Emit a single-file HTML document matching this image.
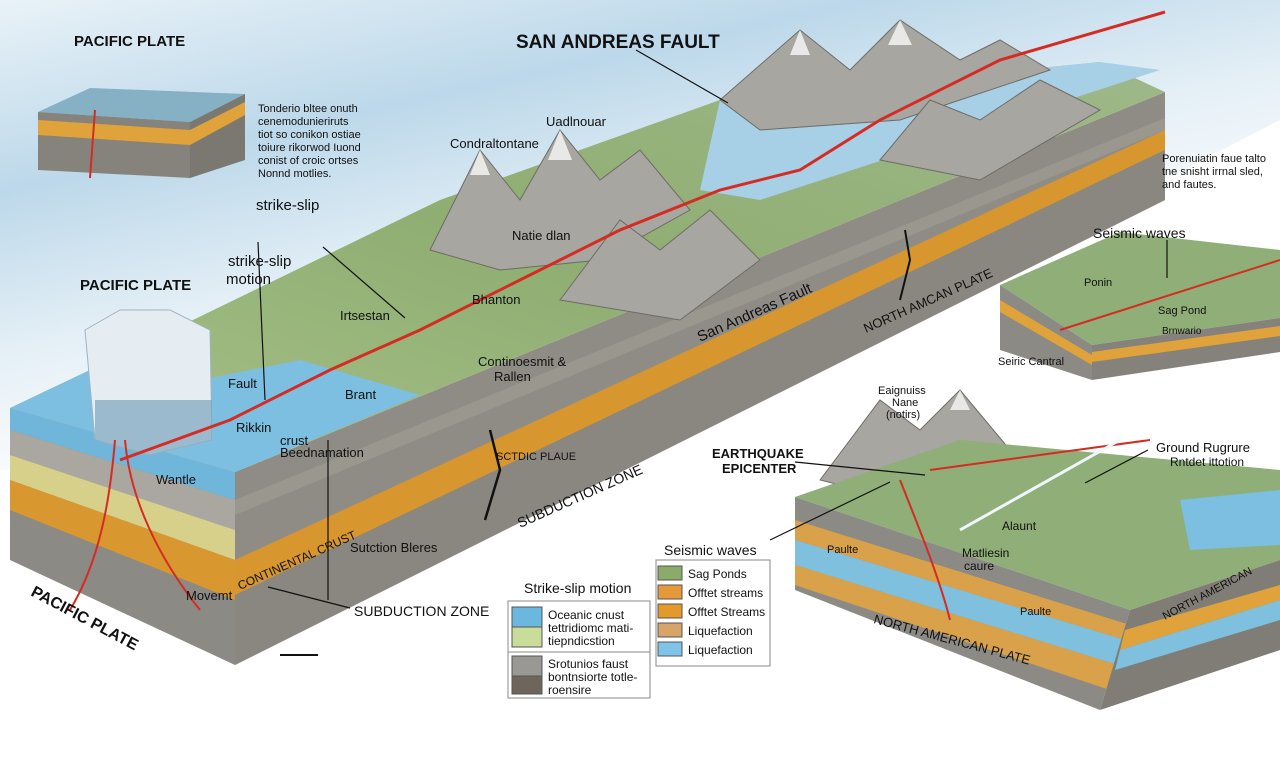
<!DOCTYPE html>
<html><head><meta charset="utf-8"><style>
html,body{margin:0;padding:0;background:#fff}
svg{display:block}
text{font-family:"Liberation Sans",sans-serif;fill:#111}
</style></head><body>
<svg width="1280" height="769" viewBox="0 0 1280 769" xmlns="http://www.w3.org/2000/svg">
<defs>
<linearGradient id="sky" x1="0" y1="0" x2="0.6" y2="1">
<stop offset="0" stop-color="#e9f2f8"/><stop offset="0.3" stop-color="#bcd8ea"/><stop offset="0.55" stop-color="#e4eff6"/><stop offset="0.8" stop-color="#fff"/></linearGradient>
<linearGradient id="ter" x1="0" y1="1" x2="1" y2="0">
<stop offset="0" stop-color="#a9c28a"/><stop offset="0.5" stop-color="#8fae72"/><stop offset="1" stop-color="#9fb88a"/></linearGradient>
</defs>
<rect width="1280" height="769" fill="#fff"/>
<polygon points="0,0 1280,0 1280,120 700,420 0,470" fill="url(#sky)"/>

<!-- main block side face -->
<polygon points="235,472 1165,92 1165,200 235,665" fill="#8f8c86"/>
<polygon points="235,500 1165,118 1165,130 235,515" fill="#9a978f"/>
<polygon points="235,560 1165,130 1165,150 235,595" fill="#d8962e"/>
<polygon points="235,595 1165,150 1165,200 235,665" fill="#8a8780"/>
<!-- left end face -->
<polygon points="10,408 235,472 235,665 10,560" fill="#8c8a84"/>
<polygon points="10,408 235,472 235,500 10,430" fill="#6fb6da"/>
<polygon points="10,430 235,500 235,530 10,455" fill="#a9a79f"/>
<polygon points="10,455 235,530 235,560 10,480" fill="#d7d08b"/>
<polygon points="10,480 235,560 235,600 10,510" fill="#d9982f"/>
<!-- top surface -->
<polygon points="10,408 235,472 1165,92 1100,62 720,100 440,200 90,370" fill="url(#ter)"/>
<polygon points="10,408 235,472 420,395 300,360 200,380 90,370" fill="#7dbfe0"/>
<polygon points="720,100 1100,62 1160,70 760,200 700,190" fill="#a7cfe6"/>
<!-- mountains -->
<g fill="#a8a6a0" stroke="#6d6b66" stroke-width="1">
<polygon points="430,250 480,150 520,200 560,130 600,180 640,150 690,210 600,260 500,270"/>
<polygon points="720,100 800,30 850,70 900,20 960,60 1000,40 1050,70 900,120 760,130"/>
<polygon points="560,300 620,220 660,250 710,210 760,260 680,320"/>
<polygon points="880,160 930,100 980,120 1040,80 1100,110 980,180"/>
<polygon points="820,480 880,400 920,430 960,390 1010,450 900,500"/>
</g>
<g fill="#e8e8e6"><polygon points="480,150 490,175 470,175"/><polygon points="560,130 572,160 548,160"/><polygon points="900,20 912,45 888,45"/><polygon points="800,30 810,55 790,55"/><polygon points="960,390 970,410 950,410"/></g>
<!-- ice cliff -->
<polygon points="85,330 120,310 170,310 210,330 212,440 150,455 95,440" fill="#e6edf2" stroke="#9fb3c2"/>
<polygon points="95,400 212,400 212,440 150,455 95,440" fill="#7aa4bd" opacity="0.7"/>
<!-- fault red line -->
<polyline points="120,460 230,420 330,370 420,330 520,280 620,230 720,190 800,170 880,120 1000,60 1165,12" fill="none" stroke="#d62b22" stroke-width="3"/>
<path d="M115,440 C110,500 100,560 70,610 M125,440 C130,500 160,560 200,610" fill="none" stroke="#d62b22" stroke-width="2"/>
<path d="M490,430 L500,470 L485,520" stroke="#111" stroke-width="2.5" fill="none"/>
<path d="M905,230 L910,260 L900,300" stroke="#111" stroke-width="2" fill="none"/>

<!-- top-left inset -->
<polygon points="38,112 90,88 245,94 190,122" fill="#86b0c4"/>
<polygon points="38,112 190,122 190,178 38,170" fill="#86837d"/>
<polygon points="38,120 190,130 190,145 38,135" fill="#e0a23a"/>
<polygon points="190,122 245,94 245,160 190,178" fill="#7b7872"/>
<polygon points="190,130 245,102 245,115 190,145" fill="#e0a23a"/>
<path d="M95,110 L90,178" stroke="#d62b22" stroke-width="2"/>
<!-- right inset -->
<polygon points="1000,285 1120,232 1280,250 1280,318 1092,345" fill="#8fae78"/>
<polygon points="1000,285 1092,345 1092,380 1000,350" fill="#8c8a84"/>
<polygon points="1000,300 1092,355 1092,365 1000,312" fill="#e0a23a"/>
<polygon points="1092,345 1280,318 1280,352 1092,380" fill="#85827c"/>
<polygon points="1092,352 1280,326 1280,336 1092,362" fill="#e0a23a"/>
<path d="M1060,330 L1280,260" stroke="#d62b22" stroke-width="2"/>
<!-- bottom right block -->
<polygon points="795,497 960,440 1280,470 1280,560 1130,610" fill="#8fae78"/>
<polygon points="1180,500 1280,490 1280,545 1190,550" fill="#7cbfe0"/>
<polygon points="795,497 1130,610 1100,710 795,590" fill="#8c8a84"/>
<polygon points="795,520 1130,625 1125,640 795,540" fill="#d9a24a"/>
<polygon points="795,540 1125,640 1118,665 795,565" fill="#7fc0df"/>
<polygon points="795,565 1118,665 1110,690 795,585" fill="#d9a24a"/>
<polygon points="1130,610 1280,560 1280,650 1100,710" fill="#807d77"/>
<polygon points="1125,630 1280,585 1280,600 1120,650" fill="#e0a23a"/>
<polygon points="1120,650 1280,600 1280,620 1115,670" fill="#7fc0df"/>
<path d="M900,480 C920,530 940,580 950,620 M930,470 L1150,440" stroke="#d62b22" stroke-width="2" fill="none"/>
<path d="M960,530 L1120,440" stroke="#eef6fb" stroke-width="3"/>

<!-- legend -->
<rect x="508" y="601" width="142" height="97" fill="#fff" stroke="#888"/>
<rect x="512" y="607" width="30" height="20" fill="#6ab8e0" stroke="#555"/>
<rect x="512" y="627" width="30" height="20" fill="#c9dc9a" stroke="#555"/>
<line x1="508" y1="652" x2="650" y2="652" stroke="#888"/>
<rect x="512" y="656" width="30" height="20" fill="#9a9893" stroke="#555"/>
<rect x="512" y="676" width="30" height="18" fill="#6e665a" stroke="#555"/>
<rect x="656" y="560" width="114" height="106" fill="#fff" stroke="#888"/>
<rect x="658" y="566" width="24" height="14" fill="#8caa6a" stroke="#555"/>
<rect x="658" y="585" width="24" height="14" fill="#e49a3a" stroke="#555"/>
<rect x="658" y="604" width="24" height="14" fill="#e49a2a" stroke="#555"/>
<rect x="658" y="623" width="24" height="14" fill="#d7a46a" stroke="#555"/>
<rect x="658" y="642" width="24" height="14" fill="#7ec3e8" stroke="#555"/>

<!-- leader lines -->
<g stroke="#111" stroke-width="1.2" fill="none">
<line x1="636" y1="50" x2="728" y2="103"/><line x1="258" y1="242" x2="265" y2="400"/><line x1="323" y1="247" x2="405" y2="318"/>
<line x1="795" y1="462" x2="925" y2="475"/><line x1="770" y1="540" x2="890" y2="482"/><line x1="1148" y1="450" x2="1085" y2="483"/>
<line x1="350" y1="608" x2="268" y2="587"/><line x1="328" y1="440" x2="328" y2="600"/><line x1="1167" y1="240" x2="1167" y2="278"/>
<line x1="280" y1="655" x2="318" y2="655" stroke-width="2"/>
</g>

<!-- labels -->
<g font-weight="bold">
<text x="74" y="46" font-size="15">PACIFIC PLATE</text>
<text x="516" y="48" font-size="19">SAN ANDREAS FAULT</text>
<text x="80" y="290" font-size="15">PACIFIC PLATE</text>
<text x="30" y="595" font-size="16" transform="rotate(28 30 595)">PACIFIC PLATE</text>
</g>
<g font-size="11">
<text x="258" y="112">Tonderio bltee onuth</text><text x="258" y="125">cenemodunieriruts</text><text x="258" y="138">tiot so conikon ostiae</text><text x="258" y="151">toiure rikorwod Iuond</text><text x="258" y="164">conist of croic ortses</text><text x="258" y="177">Nonnd motlies.</text>
<text x="1162" y="162">Porenuiatin faue talto</text><text x="1162" y="175">tne snisht irrnal sled,</text><text x="1162" y="188">and fautes.</text>
</g>
<g font-size="13">
<text x="546" y="126">Uadlnouar</text><text x="450" y="148">Condraltontane</text>
<text x="228" y="266" font-size="15">strike-slip</text><text x="226" y="284" font-size="15">motion</text>
<text x="256" y="210" font-size="15">strike-slip</text>
<text x="512" y="240">Natie dlan</text><text x="340" y="320">Irtsestan</text><text x="472" y="304">Bhanton</text>
<text x="478" y="366">Continoesmit &amp;</text><text x="494" y="381">Rallen</text>
<text x="345" y="399">Brant</text><text x="228" y="388">Fault</text><text x="236" y="432">Rikkin</text>
<text x="280" y="445">crust</text><text x="280" y="457">Beednamation</text>
<text x="156" y="484">Wantle</text><text x="350" y="552">Sutction Bleres</text><text x="186" y="600">Movemt</text>
<text x="496" y="460" font-size="11">SCTDIC PLAUE</text>
<text x="1093" y="238" font-size="14">Seismic waves</text>
<text x="1084" y="286" font-size="11">Ponin</text><text x="1158" y="314" font-size="11">Sag Pond</text><text x="1162" y="334" font-size="10">Brnwario</text>
<text x="998" y="365" font-size="11">Seiric Cantral</text>
<text x="878" y="394" font-size="11">Eaignuiss</text><text x="892" y="406" font-size="11">Nane</text><text x="886" y="418" font-size="11">(notirs)</text>
<text x="712" y="458" font-weight="bold">EARTHQUAKE</text><text x="722" y="473" font-weight="bold">EPICENTER</text>
<text x="1156" y="452">Ground Rugrure</text><text x="1170" y="466" font-size="12">Rntdet ittotion</text>
<text x="1002" y="530" font-size="12">Alaunt</text><text x="962" y="557" font-size="12">Matliesin</text><text x="964" y="570" font-size="12">caure</text>
<text x="827" y="553" font-size="11">Paulte</text><text x="1020" y="615" font-size="11">Paulte</text>
<text x="664" y="555" font-size="14">Seismic waves</text>
<text x="524" y="593" font-size="14">Strike-slip motion</text>
<text x="354" y="616" font-size="14">SUBDUCTION ZONE</text>
</g>
<g font-size="12">
<text x="548" y="619">Oceanic cnust</text><text x="548" y="632">tettridiomc mati-</text><text x="548" y="645">tiepndicstion</text>
<text x="548" y="668">Srotunios faust</text><text x="548" y="681">bontnsiorte totle-</text><text x="548" y="694">roensire</text>
<text x="688" y="578">Sag Ponds</text><text x="688" y="597">Offtet streams</text><text x="688" y="616">Offtet Streams</text><text x="688" y="635">Liquefaction</text><text x="688" y="654">Liquefaction</text>
</g>
<g font-size="15">
<text x="700" y="342" transform="rotate(-24 700 342)">San Andreas Fault</text>
<text x="866" y="333" font-size="13" transform="rotate(-24 866 333)">NORTH AMCAN PLATE</text>
<text x="520" y="528" font-size="14" transform="rotate(-24 520 528)">SUBDUCTION ZONE</text>
<text x="240" y="590" font-size="12" transform="rotate(-24 240 590)">CONTINENTAL CRUST</text>
<text x="873" y="623" font-size="13" transform="rotate(15 873 623)">NORTH AMERICAN PLATE</text>
<text x="1165" y="620" font-size="11" transform="rotate(-28 1165 620)">NORTH AMERICAN</text>
</g>
</svg>
</body></html>
